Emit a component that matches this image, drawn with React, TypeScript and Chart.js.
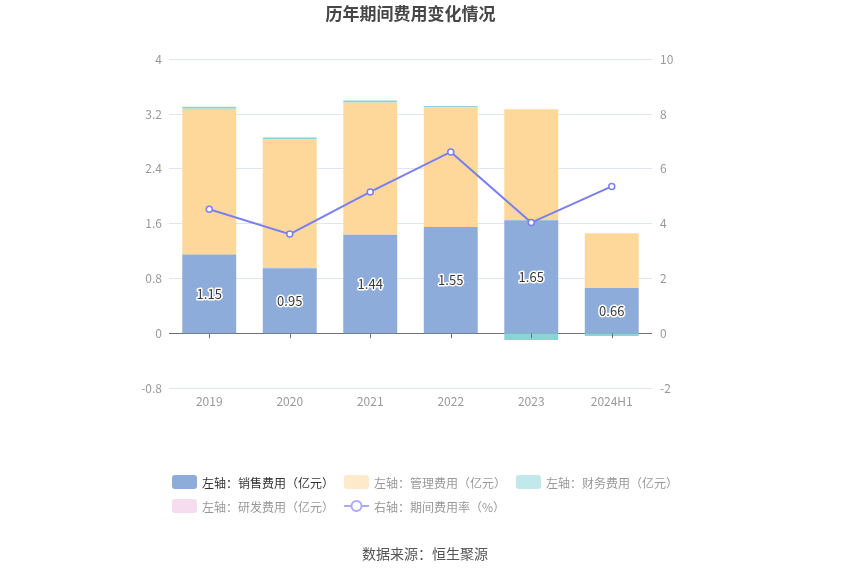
import { useEffect, useRef } from 'react'
import { Chart, registerables } from 'chart.js'
Chart.register(...registerables)

const FONT = "'Noto Sans CJK SC', 'Noto Sans', sans-serif"
Chart.defaults.font.family = FONT

const years = ['2019', '2020', '2021', '2022', '2023', '2024H1']
const salesCost = [1.15, 0.95, 1.44, 1.55, 1.65, 0.66]
const adminCost = [2.13, 1.88, 1.93, 1.75, 1.62, 0.8]
const financeCost = [0.03, 0.03, 0.03, 0.02, -0.1, -0.04]
const rdCost = [0, 0, 0, 0, 0, 0]
const expenseRate = [4.53, 3.62, 5.16, 6.62, 4.04, 5.36]

const seriesNames = [
  '左轴：销售费用（亿元）',
  '左轴：管理费用（亿元）',
  '左轴：财务费用（亿元）',
  '左轴：研发费用（亿元）',
  '右轴：期间费用率（%）',
]

const BLUE = '#8dacd9'
const ORANGE = '#fed89b'
const TEAL = '#87d6d5'
const PINK = '#f4d9ec'
const LINE = '#7b7ef2'

// labels in the middle of the sales bars + little ticks on the zero line
const extras = {
  id: 'extras',
  afterDatasetsDraw(chart: any) {
    const { ctx, scales } = chart
    const y0 = scales.y.getPixelForValue(0)
    ctx.save()
    ctx.strokeStyle = '#6e7079'
    ctx.lineWidth = 1
    years.forEach((_, i) => {
      const x = Math.round(scales.x.getPixelForValue(i)) + 0.5
      ctx.beginPath()
      ctx.moveTo(x, y0)
      ctx.lineTo(x, y0 + 5)
      ctx.stroke()
    })
    const meta = chart.getDatasetMeta(0)
    ctx.font = `13px ${FONT}`
    ctx.textAlign = 'center'
    ctx.textBaseline = 'middle'
    ctx.lineJoin = 'round'
    meta.data.forEach((el: any, i: number) => {
      const txt = salesCost[i].toFixed(2)
      const y = (el.y + el.base) / 2
      ctx.strokeStyle = '#fff'
      ctx.lineWidth = 3
      ctx.strokeText(txt, el.x, y)
      ctx.fillStyle = '#3a3a3a'
      ctx.fillText(txt, el.x, y)
    })
    ctx.restore()
  },
}

const legendItems = [
  { name: seriesNames[0], color: BLUE, text: '#333' },
  { name: seriesNames[1], color: '#fee9cb', text: '#999' },
  { name: seriesNames[2], color: '#c1e9ec', text: '#999' },
  { name: seriesNames[3], color: '#f5dcee', text: '#999' },
  { name: seriesNames[4], color: '', text: '#999' },
]

const App = () => {
  const canvas = useRef<any>(null)
  useEffect(() => {
    const chart = new Chart(canvas.current, {
      type: 'bar',
      data: {
        labels: years,
        datasets: [
          { type: 'bar', label: seriesNames[0], data: salesCost, backgroundColor: BLUE, stack: 's', order: 1, yAxisID: 'y' },
          { type: 'bar', label: seriesNames[1], data: adminCost, backgroundColor: ORANGE, stack: 's', order: 1, yAxisID: 'y' },
          { type: 'bar', label: seriesNames[2], data: financeCost, backgroundColor: TEAL, stack: 's', order: 1, yAxisID: 'y' },
          { type: 'bar', label: seriesNames[3], data: rdCost, backgroundColor: PINK, stack: 's', order: 1, yAxisID: 'y' },
          {
            type: 'line', label: seriesNames[4], data: expenseRate, yAxisID: 'y1', order: 0,
            borderColor: LINE, borderWidth: 2, pointRadius: 3, pointBorderWidth: 1.5,
            pointBackgroundColor: '#fff', pointBorderColor: LINE, tension: 0,
          },
        ] as any,
      },
      options: {
        responsive: false,
        animation: false,
        layout: { padding: { left: 119, right: 148, top: 0, bottom: 157 } },
        datasets: { bar: { categoryPercentage: 1, barPercentage: 0.67, borderWidth: 0 } },
        plugins: {
          legend: { display: false },
          tooltip: { enabled: false },
          title: {
            display: true,
            text: '历年期间费用变化情况',
            color: '#464646',
            font: { size: 17, weight: 'bold', family: FONT },
            padding: { top: 3, bottom: 36 },
          },
        },
        scales: {
          x: {
            stacked: true,
            grid: { display: false, drawTicks: false },
            border: { display: false },
            ticks: { color: '#999', font: { size: 12 }, padding: 6 },
            afterFit: (s: any) => { s.height = 30 },
          },
          y: {
            stacked: true,
            position: 'left',
            min: -0.8,
            max: 4,
            ticks: {
              stepSize: 0.8,
              color: '#999',
              font: { size: 12 },
              padding: 7,
              callback: (v: any) => `${+(+v).toFixed(2)}`,
            },
            grid: {
              drawTicks: false,
              color: (c: any) => (Math.abs(c.tick.value) < 1e-9 ? '#6e7079' : '#e0e6f1'),
            },
            border: { display: false },
            afterFit: (s: any) => { s.width = 50 },
          },
          y1: {
            position: 'right',
            min: -2,
            max: 10,
            ticks: { stepSize: 2, color: '#999', font: { size: 12 }, padding: 8 },
            grid: { display: false, drawTicks: false },
            border: { display: false },
            afterFit: (s: any) => { s.width = 50 },
          },
        },
      } as any,
      plugins: [extras],
    })
    return () => chart.destroy()
  }, [])

  return (
    <div style={{ position: 'absolute', left: 0, top: 0, width: 850, height: 575, fontFamily: FONT }}>
      <canvas ref={canvas} width={850} height={575}></canvas>
      <div style={{ position: 'absolute', left: 172, top: 470, width: 520, display: 'flex', flexWrap: 'wrap' }}>
        {legendItems.map((it) => (
          <div key={it.name} style={{ width: 172, height: 24, display: 'flex', alignItems: 'center', fontSize: 12, color: it.text, whiteSpace: 'nowrap' }}>
            {it.color ? (
              <span style={{ display: 'inline-block', width: 25, height: 14, borderRadius: 3, background: it.color }} />
            ) : (
              <svg width={25} height={14}>
                <line x1={0} y1={7} x2={25} y2={7} stroke="#a9abf6" strokeWidth={2} />
                <circle cx={12.5} cy={7} r={5} fill="#fff" stroke="#a9abf6" strokeWidth={2} />
              </svg>
            )}
            <span style={{ marginLeft: 5 }}>{it.name}</span>
          </div>
        ))}
      </div>
      <div style={{ position: 'absolute', left: 0, width: 850, top: 543, textAlign: 'center', fontSize: 14, color: '#555' }}>
        数据来源：恒生聚源
      </div>
    </div>
  )
}

export default App
